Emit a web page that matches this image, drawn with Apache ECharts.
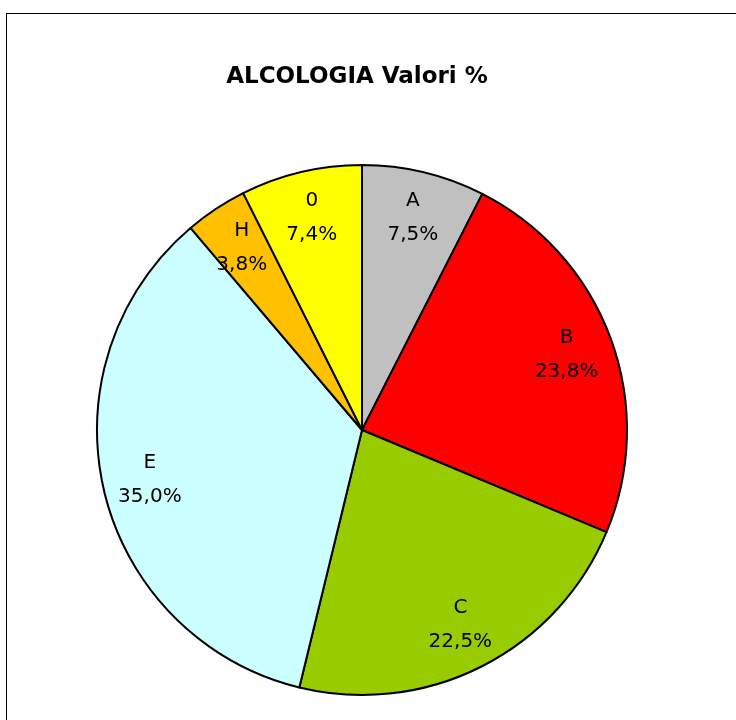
<!DOCTYPE html>
<html>
<head>
<meta charset="utf-8">
<script src="https://cdn.jsdelivr.net/npm/echarts@6/dist/echarts.min.js"></script>
<style>
  html, body { margin: 0; padding: 0; background: #fff; overflow: hidden; }
  #wrap { position: relative; width: 736px; height: 720px; overflow: hidden; }
  #frame { position: absolute; left: 6px; top: 13px; width: 900px; height: 900px; border: 1.5px solid #000; box-sizing: border-box; }
  #pie-chart { position: absolute; left: 0; top: 0; width: 736px; height: 720px; }
</style>
</head>
<body>
<div id="wrap">
  <div id="frame"></div>
  <div id="pie-chart"></div>
</div>
<script>
// dati del grafico
const categories = ['A', 'B', 'C', 'E', 'H', '0'];
const values = [7.5, 23.8, 22.5, 35.0, 3.8, 7.4];
const colors = ['#C0C0C0', '#FF0000', '#99CC00', '#CCFFFF', '#FFC000', '#FFFF00'];

const font = '"DejaVu Sans", sans-serif';

const chart = echarts.init(document.getElementById('pie-chart'));

const sliceData = categories.map((c, i) => ({
    name: c,
    value: values[i],
    itemStyle: { color: colors[i] }
}));

// serie trasparente solo per posizionare le etichette verso il bordo
const labelData = categories.map((c, i) => ({
    name: c,
    value: values[i]
}));

const option = {
    backgroundColor: 'transparent',
    animation: false,
    title: {
        text: 'ALCOLOGIA Valori %',
        left: 352,
        textAlign: 'center',
        top: 61,
        textStyle: {
            fontFamily: font,
            fontWeight: 'bold',
            fontSize: 23,
            color: '#000'
        }
    },
    series: [
        {
            type: 'pie',
            center: [362, 430],
            radius: [0, 265],
            startAngle: 90,
            clockwise: true,
            silent: true,
            itemStyle: { borderColor: '#000', borderWidth: 2 },
            label: { show: false },
            labelLine: { show: false },
            data: sliceData
        },
        {
            type: 'pie',
            center: [362, 430],
            radius: [165, 265],
            startAngle: 90,
            clockwise: true,
            silent: true,
            itemStyle: { color: 'rgba(0,0,0,0)', borderWidth: 0 },
            label: {
                show: true,
                position: 'inside',
                color: '#000',
                fontFamily: font,
                fontSize: 20,
                lineHeight: 34,
                formatter: p => p.name + '\n' + p.value.toFixed(1).replace('.', ',') + '%'
            },
            labelLine: { show: false },
            data: labelData
        }
    ]
};

chart.setOption(option);
</script>
</body>
</html>
